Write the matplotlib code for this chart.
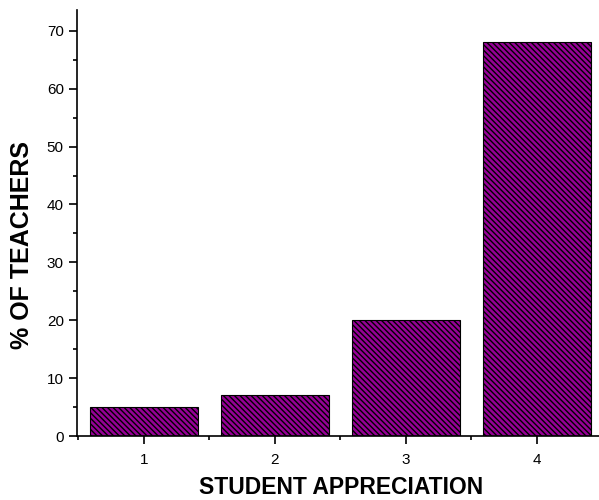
import matplotlib
matplotlib.use("Agg")
import matplotlib.pyplot as plt
from matplotlib.ticker import MultipleLocator

categories = [1, 2, 3, 4]
values = [5, 7, 20, 68]
tick_labels = ["1", "2", "3", "4"]

plt.rcParams['font.family'] = ['Liberation Sans', 'DejaVu Sans']
plt.rcParams['hatch.linewidth'] = 1.0
plt.rcParams['hatch.color'] = 'black'

fig = plt.figure(figsize=(5.99, 5.0), dpi=100)
ax = fig.add_axes([77/599, 1-436/500, (602.5-77)/599, (436-10)/500])

ax.bar(categories, values, width=0.82, color='#960096', edgecolor='black',
       linewidth=0.8, hatch='\\\\\\\\\\\\')

ax.set_xlim(0.49, 4.5)
ax.set_ylim(0, 73.6)
ax.set_xticks(categories)
ax.set_xticklabels(tick_labels)
ax.xaxis.set_minor_locator(MultipleLocator(0.5))
ax.yaxis.set_major_locator(MultipleLocator(10))
ax.yaxis.set_minor_locator(MultipleLocator(5))

for s in ['top', 'right']:
    ax.spines[s].set_visible(False)
for s in ['left', 'bottom']:
    ax.spines[s].set_linewidth(1.2)

ax.tick_params(axis='both', which='major', direction='out', length=6, width=1.2, labelsize=11)
ax.tick_params(axis='both', which='minor', direction='out', length=3, width=1.2)
ax.tick_params(axis='x', which='major', pad=6)

ax.set_xlabel('STUDENT APPRECIATION', fontsize=16.5, fontweight='bold')
ax.xaxis.set_label_coords((341-77)/(602.5-77), (436-488)/426)
ax.xaxis.label.set_va('center')
ax.set_ylabel('% OF TEACHERS', fontsize=18, fontweight='bold')
ax.yaxis.set_label_coords((22-77)/(602.5-77), (436-245)/426)
ax.yaxis.label.set_va('center')

fig.savefig('out.png', dpi=100)
